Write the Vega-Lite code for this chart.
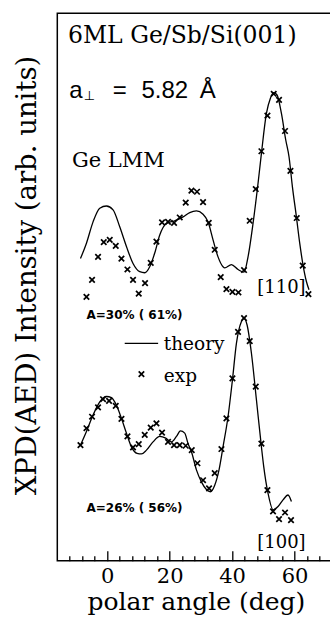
{
  "$schema": "https://vega.github.io/schema/vega-lite/v6.json",
  "width": 274.7,
  "height": 547.4,
  "padding": {"left": 57.3, "top": 13.3, "right": 0, "bottom": 64.3},
  "autosize": {"type": "none"},
  "background": "white",
  "config": {
    "view": {"stroke": "black", "strokeWidth": 1.5},
    "axis": {"grid": false, "domain": false, "tickColor": "black", "labelColor": "black", "titleColor": "black"}
  },
  "datasets": {
    "theory": [
      {"panel": "110", "a": -8.58, "v": 55.2}, {"panel": "110", "a": -6.66, "v": 58.0}, {"panel": "110", "a": -4.55, "v": 61.9},
      {"panel": "110", "a": -2.40, "v": 64.4}, {"panel": "110", "a": -0.26, "v": 64.8}, {"panel": "110", "a": 1.86, "v": 64.1},
      {"panel": "110", "a": 4.00, "v": 61.0}, {"panel": "110", "a": 6.15, "v": 57.4}, {"panel": "110", "a": 8.26, "v": 54.3},
      {"panel": "110", "a": 10.41, "v": 52.8}, {"panel": "110", "a": 12.01, "v": 52.6}, {"panel": "110", "a": 13.61, "v": 53.7},
      {"panel": "110", "a": 15.21, "v": 56.2}, {"panel": "110", "a": 16.82, "v": 59.5}, {"panel": "110", "a": 18.96, "v": 61.6},
      {"panel": "110", "a": 21.62, "v": 62.1}, {"panel": "110", "a": 24.28, "v": 62.8}, {"panel": "110", "a": 26.43, "v": 63.6},
      {"panel": "110", "a": 28.57, "v": 63.9}, {"panel": "110", "a": 30.69, "v": 63.3}, {"panel": "110", "a": 32.29, "v": 61.9},
      {"panel": "110", "a": 33.89, "v": 58.6}, {"panel": "110", "a": 35.49, "v": 55.5}, {"panel": "110", "a": 37.09, "v": 53.7},
      {"panel": "110", "a": 37.64, "v": 53.5}, {"panel": "110", "a": 39.78, "v": 54.1}, {"panel": "110", "a": 41.9, "v": 53.2},
      {"panel": "110", "a": 43.82, "v": 52.7}, {"panel": "110", "a": 45.10, "v": 55.5}, {"panel": "110", "a": 46.70, "v": 61.6},
      {"panel": "110", "a": 48.30, "v": 68.9}, {"panel": "110", "a": 49.39, "v": 74.4}, {"panel": "110", "a": 50.99, "v": 81.7},
      {"panel": "110", "a": 52.27, "v": 84.5}, {"panel": "110", "a": 53.33, "v": 85.5}, {"panel": "110", "a": 54.39, "v": 85.1},
      {"panel": "110", "a": 55.80, "v": 81.7}, {"panel": "110", "a": 57.17, "v": 76.9}, {"panel": "110", "a": 58.23, "v": 73.8},
      {"panel": "110", "a": 59.32, "v": 68.3}, {"panel": "110", "a": 60.60, "v": 62.8}, {"panel": "110", "a": 61.66, "v": 58.0},
      {"panel": "110", "a": 62.72, "v": 54.0}, {"panel": "110", "a": 63.80, "v": 51.0}, {"panel": "110", "a": 64.64, "v": 49.5},
      {"panel": "100", "a": -8.58, "v": 21.1}, {"panel": "100", "a": -6.66, "v": 23.6}, {"panel": "100", "a": -4.55, "v": 26.6},
      {"panel": "100", "a": -2.40, "v": 29.0}, {"panel": "100", "a": -0.26, "v": 30.0}, {"panel": "100", "a": 1.35, "v": 29.8},
      {"panel": "100", "a": 2.95, "v": 28.4}, {"panel": "100", "a": 4.55, "v": 26.0}, {"panel": "100", "a": 6.15, "v": 23.3},
      {"panel": "100", "a": 7.75, "v": 20.8}, {"panel": "100", "a": 9.55, "v": 19.6}, {"panel": "100", "a": 10.95, "v": 19.5},
      {"panel": "100", "a": 12.56, "v": 20.2}, {"panel": "100", "a": 14.67, "v": 21.7}, {"panel": "100", "a": 16.82, "v": 22.7},
      {"panel": "100", "a": 18.74, "v": 22.4}, {"panel": "100", "a": 20.56, "v": 21.7}, {"panel": "100", "a": 22.17, "v": 22.7},
      {"panel": "100", "a": 23.45, "v": 23.7}, {"panel": "100", "a": 24.82, "v": 23.3}, {"panel": "100", "a": 25.88, "v": 21.4},
      {"panel": "100", "a": 26.97, "v": 19.9}, {"panel": "100", "a": 28.57, "v": 16.6}, {"panel": "100", "a": 30.17, "v": 14.4},
      {"panel": "100", "a": 31.77, "v": 13.0}, {"panel": "100", "a": 33.06, "v": 12.6}, {"panel": "100", "a": 34.43, "v": 13.8},
      {"panel": "100", "a": 35.81, "v": 16.6}, {"panel": "100", "a": 37.09, "v": 20.8}, {"panel": "100", "a": 38.69, "v": 26.3},
      {"panel": "100", "a": 40.10, "v": 33.0}, {"panel": "100", "a": 41.38, "v": 39.7}, {"panel": "100", "a": 42.99, "v": 43.7},
      {"panel": "100", "a": 43.82, "v": 44.3}, {"panel": "100", "a": 44.78, "v": 43.1}, {"panel": "100", "a": 46.19, "v": 37.9},
      {"panel": "100", "a": 47.79, "v": 29.4}, {"panel": "100", "a": 49.39, "v": 20.8}, {"panel": "100", "a": 50.13, "v": 17.2},
      {"panel": "100", "a": 51.51, "v": 12.3}, {"panel": "100", "a": 53.11, "v": 9.3}, {"panel": "100", "a": 54.71, "v": 9.9},
      {"panel": "100", "a": 56.31, "v": 11.1}, {"panel": "100", "a": 57.91, "v": 12.0}, {"panel": "100", "a": 59.00, "v": 10.8}
    ],
    "exp": [
      {"panel": "110", "a": -6.66, "v": 48.2}, {"panel": "110", "a": -4.87, "v": 51.3}, {"panel": "110", "a": -2.95, "v": 55.5},
      {"panel": "110", "a": -1.12, "v": 58.2}, {"panel": "110", "a": 0.80, "v": 58.6}, {"panel": "110", "a": 2.72, "v": 57.5},
      {"panel": "110", "a": 4.55, "v": 55.2}, {"panel": "110", "a": 6.47, "v": 53.2}, {"panel": "110", "a": 8.26, "v": 51.3},
      {"panel": "110", "a": 10.09, "v": 48.8}, {"panel": "110", "a": 12.11, "v": 50.7}, {"panel": "110", "a": 13.93, "v": 54.4},
      {"panel": "110", "a": 15.76, "v": 58.3}, {"panel": "110", "a": 17.55, "v": 61.8}, {"panel": "110", "a": 19.47, "v": 61.9},
      {"panel": "110", "a": 21.40, "v": 61.7}, {"panel": "110", "a": 23.22, "v": 62.7}, {"panel": "110", "a": 25.14, "v": 65.4},
      {"panel": "110", "a": 26.97, "v": 67.6}, {"panel": "110", "a": 28.76, "v": 67.4}, {"panel": "110", "a": 30.69, "v": 65.5},
      {"panel": "110", "a": 32.51, "v": 61.7}, {"panel": "110", "a": 34.43, "v": 56.8}, {"panel": "110", "a": 36.35, "v": 51.8},
      {"panel": "110", "a": 38.18, "v": 49.6}, {"panel": "110", "a": 40.10, "v": 49.1}, {"panel": "110", "a": 42.02, "v": 49.0},
      {"panel": "110", "a": 43.82, "v": 53.1}, {"panel": "110", "a": 45.64, "v": 62.1}, {"panel": "110", "a": 47.57, "v": 67.9},
      {"panel": "110", "a": 49.39, "v": 74.8}, {"panel": "110", "a": 51.31, "v": 81.3}, {"panel": "110", "a": 53.33, "v": 85.3},
      {"panel": "110", "a": 55.03, "v": 84.2}, {"panel": "110", "a": 56.95, "v": 78.5}, {"panel": "110", "a": 58.68, "v": 71.2},
      {"panel": "110", "a": 60.70, "v": 62.6}, {"panel": "110", "a": 62.62, "v": 53.9}, {"panel": "110", "a": 64.45, "v": 48.7},
      {"panel": "100", "a": -8.58, "v": 21.1}, {"panel": "100", "a": -6.66, "v": 24.2}, {"panel": "100", "a": -4.87, "v": 26.3},
      {"panel": "100", "a": -2.95, "v": 28.0}, {"panel": "100", "a": -1.35, "v": 29.5}, {"panel": "100", "a": 0.58, "v": 29.2},
      {"panel": "100", "a": 2.72, "v": 28.3}, {"panel": "100", "a": 4.55, "v": 25.9}, {"panel": "100", "a": 6.47, "v": 22.7},
      {"panel": "100", "a": 8.26, "v": 20.7}, {"panel": "100", "a": 10.09, "v": 21.3}, {"panel": "100", "a": 12.01, "v": 23.0},
      {"panel": "100", "a": 13.93, "v": 24.3}, {"panel": "100", "a": 15.76, "v": 25.1}, {"panel": "100", "a": 17.55, "v": 23.4},
      {"panel": "100", "a": 19.47, "v": 21.7}, {"panel": "100", "a": 21.40, "v": 21.1}, {"panel": "100", "a": 23.22, "v": 21.1},
      {"panel": "100", "a": 25.14, "v": 21.0}, {"panel": "100", "a": 27.07, "v": 20.2}, {"panel": "100", "a": 28.89, "v": 17.8},
      {"panel": "100", "a": 30.69, "v": 14.7}, {"panel": "100", "a": 32.61, "v": 13.2}, {"panel": "100", "a": 34.43, "v": 16.0},
      {"panel": "100", "a": 36.58, "v": 20.4}, {"panel": "100", "a": 38.18, "v": 26.0}, {"panel": "100", "a": 40.10, "v": 33.3},
      {"panel": "100", "a": 41.90, "v": 41.8}, {"panel": "100", "a": 43.82, "v": 44.3}, {"panel": "100", "a": 45.64, "v": 40.1},
      {"panel": "100", "a": 47.57, "v": 31.8}, {"panel": "100", "a": 49.39, "v": 21.4}, {"panel": "100", "a": 51.31, "v": 12.9},
      {"panel": "100", "a": 53.11, "v": 9.0}, {"panel": "100", "a": 55.03, "v": 7.6}, {"panel": "100", "a": 56.95, "v": 8.8},
      {"panel": "100", "a": 58.87, "v": 7.4}
    ]
  },
  "layer": [
    {
      "data": {"name": "theory"},
      "mark": {"type": "line", "color": "black", "strokeWidth": 1.3, "interpolate": "monotone"},
      "encoding": {
        "x": {"field": "a", "type": "quantitative", "scale": {"domain": [-16, 72], "nice": false, "zero": false},
          "axis": {"orient": "bottom", "values": [-12, -8, -4, 4, 8, 12, 16, 24, 28, 32, 36, 44, 48, 52, 56, 64, 68], "tickSize": -5, "tickWidth": 1.3, "labels": false, "title": null}},
        "y": {"field": "v", "type": "quantitative", "scale": {"domain": [0, 100], "nice": false, "zero": false},
          "axis": {"ticks": false, "labels": false, "title": "XPD(AED) Intensity (arb. units)", "titleFont": "DejaVu Serif", "titleFontSize": 27.5, "titleFontWeight": "normal", "titleX": -22.3, "titleY": 261.7, "titleAngle": 270, "titleAlign": "center", "titleBaseline": "alphabetic"}},
        "detail": {"field": "panel"}
      }
    },
    {
      "data": {"name": "exp"},
      "mark": {"type": "point", "shape": "M-1,-1L1,1M-1,1L1,-1", "filled": false, "stroke": "black", "strokeWidth": 1.7, "size": 30, "opacity": 1},
      "encoding": {
        "x": {"field": "a", "type": "quantitative",
          "axis": {"orient": "bottom", "values": [0, 20, 40, 60], "tickSize": -10, "tickWidth": 1.3, "labelFont": "DejaVu Serif", "labelFontSize": 21, "labelPadding": 32, "labelBaseline": "alphabetic",
            "title": "polar angle (deg)", "titleFont": "DejaVu Serif", "titleFontSize": 25, "titleFontWeight": "normal", "titleX": 138.6, "titleY": 49, "titleAlign": "center", "titleBaseline": "alphabetic"}},
        "y": {"field": "v", "type": "quantitative"}
      }
    },
    {
      "data": {"values": [{"a": -12.56, "v": 94.5, "t": "6ML Ge/Sb/Si(001)"}]},
      "mark": {"type": "text", "font": "DejaVu Serif", "fontSize": 23.5, "align": "left", "baseline": "alphabetic", "color": "black"},
      "encoding": {"x": {"field": "a", "type": "quantitative", "axis": null}, "y": {"field": "v", "type": "quantitative"}, "text": {"field": "t"}}
    },
    {
      "data": {"values": [{"a": -11.3, "v": 72.0, "t": "Ge LMM"}]},
      "mark": {"type": "text", "font": "DejaVu Serif", "fontSize": 21, "align": "left", "baseline": "alphabetic", "color": "black"},
      "encoding": {"x": {"field": "a", "type": "quantitative", "axis": null}, "y": {"field": "v", "type": "quantitative"}, "text": {"field": "t"}}
    },
    {
      "data": {"values": [{"a": -12.15, "v": 84.5, "t": "a"}, {"a": 1.76, "v": 84.5, "t": "="}, {"a": 10.95, "v": 84.5, "t": "5.82"}, {"a": 29.6, "v": 84.5, "t": "Å"}]},
      "mark": {"type": "text", "font": "Liberation Sans", "fontSize": 24, "align": "left", "baseline": "alphabetic", "color": "black"},
      "encoding": {"x": {"field": "a", "type": "quantitative", "axis": null}, "y": {"field": "v", "type": "quantitative"}, "text": {"field": "t"}}
    },
    {
      "data": {"values": [{"a": -7.5, "v": 84.1, "t": "⊥"}]},
      "mark": {"type": "text", "font": "DejaVu Sans", "fontSize": 13, "align": "left", "baseline": "alphabetic", "color": "black"},
      "encoding": {"x": {"field": "a", "type": "quantitative", "axis": null}, "y": {"field": "v", "type": "quantitative"}, "text": {"field": "t"}}
    },
    {
      "data": {"values": [{"a": 55.8, "v": 49.8, "t": "[110]"}, {"a": 55.8, "v": 3.3, "t": "[100]"}]},
      "mark": {"type": "text", "font": "DejaVu Serif", "fontSize": 18, "align": "center", "baseline": "middle", "color": "black"},
      "encoding": {"x": {"field": "a", "type": "quantitative", "axis": null}, "y": {"field": "v", "type": "quantitative"}, "text": {"field": "t"}}
    },
    {
      "data": {"values": [{"a": -6.66, "v": 44.8, "t": "A=30% ( 61%)"}, {"a": -6.66, "v": 9.7, "t": "A=26% ( 56%)"}]},
      "mark": {"type": "text", "font": "DejaVu Sans", "fontSize": 12, "fontWeight": "bold", "align": "left", "baseline": "middle", "color": "black"},
      "encoding": {"x": {"field": "a", "type": "quantitative", "axis": null}, "y": {"field": "v", "type": "quantitative"}, "text": {"field": "t"}}
    },
    {
      "data": {"values": [{"a": 18.1, "v": 38.5, "t": "theory"}, {"a": 18.1, "v": 32.7, "t": "exp"}]},
      "mark": {"type": "text", "font": "DejaVu Serif", "fontSize": 18.5, "align": "left", "baseline": "alphabetic", "color": "black"},
      "encoding": {"x": {"field": "a", "type": "quantitative", "axis": null}, "y": {"field": "v", "type": "quantitative"}, "text": {"field": "t"}}
    },
    {
      "data": {"values": [{"a": 5.6, "a2": 16.3, "v": 39.7}]},
      "mark": {"type": "rule", "color": "black", "strokeWidth": 1.3},
      "encoding": {"x": {"field": "a", "type": "quantitative", "axis": null}, "x2": {"field": "a2"}, "y": {"field": "v", "type": "quantitative"}}
    },
    {
      "data": {"values": [{"a": 10.95, "v": 34.1}]},
      "mark": {"type": "point", "shape": "M-1,-1L1,1M-1,1L1,-1", "filled": false, "stroke": "black", "strokeWidth": 1.7, "size": 30, "opacity": 1},
      "encoding": {"x": {"field": "a", "type": "quantitative", "axis": null}, "y": {"field": "v", "type": "quantitative"}}
    }
  ],
  "resolve": {"axis": {"x": "independent"}}
}
